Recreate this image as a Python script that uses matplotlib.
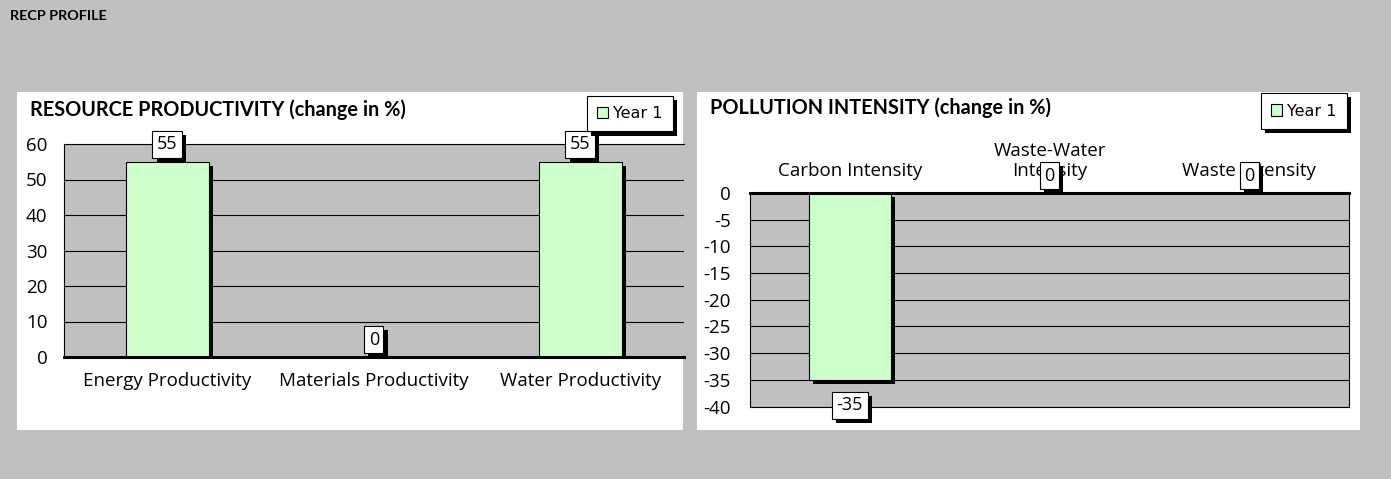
import matplotlib.pyplot as plt
import matplotlib.patheffects as pe
from matplotlib.patches import Rectangle, Patch

# data
res_categories = ['Energy Productivity', 'Materials Productivity', 'Water Productivity']
res_values = [55, 0, 55]
res_ticks = [0, 10, 20, 30, 40, 50, 60]

pol_categories = ['Carbon Intensity', 'Waste-Water\nIntensity', 'Waste Intensity']
pol_values = [-35, 0, 0]
pol_ticks = [0, -5, -10, -15, -20, -25, -30, -35, -40]

series_name = 'Year 1'

BG = '#c0c0c0'
BAR = '#ccffcc'
W, H = 1391, 479

plt.rcParams['font.family'] = ['Open Sans', 'DejaVu Sans']
plt.rcParams['axes.unicode_minus'] = False


def shadow(off=3):
    return [pe.SimplePatchShadow(offset=(off, -off), shadow_rgbFace='black', alpha=1), pe.Normal()]


def fx(px):
    return px / W


def fy(py):
    return 1 - py / H


fig = plt.figure(figsize=(W / 100, H / 100), dpi=100, facecolor=BG)

# white chart panels
for x0, x1 in [(17, 683), (697, 1360)]:
    fig.patches.append(Rectangle((fx(x0), fy(430)), fx(x1 - x0), (430 - 92) / H,
                                 transform=fig.transFigure, facecolor='white', edgecolor='none', zorder=-10))

fig.text(fx(10), fy(16), 'RECP PROFILE', fontsize=10.4, fontweight='bold', family='Lato', va='center')


def style_axes(ax):
    ax.set_facecolor(BG)
    ax.grid(axis='y', color='black', linewidth=0.8)
    ax.set_axisbelow(True)
    ax.tick_params(length=0, labelsize=13.5)
    for s in ax.spines.values():
        s.set_color('black')
        s.set_linewidth(0.8)


def add_legend(ax, cx, cy):
    h = Patch(facecolor=BAR, edgecolor='black', linewidth=0.8)
    leg = ax.legend([h], [series_name], loc='center', bbox_to_anchor=(fx(cx), fy(cy)),
                    bbox_transform=fig.transFigure, fancybox=False, edgecolor='black',
                    framealpha=1, handlelength=0.7, handleheight=0.7,
                    handletextpad=0.3, borderpad=0.65, prop={'family': 'DejaVu Sans', 'size': 11.5})
    leg.get_frame().set_linewidth(0.8)
    leg.get_frame().set_path_effects(shadow(3))


def label_bars(ax, xs, vals):
    for x, v in zip(xs, vals):
        if v >= 0:
            t = ax.annotate(str(v), (x, v), xytext=(0, 6), textcoords='offset points',
                            ha='center', va='bottom', fontsize=13)
        else:
            t = ax.annotate(str(v), (x, v), xytext=(0, -12), textcoords='offset points',
                            ha='center', va='top', fontsize=13)
        t.set_bbox(dict(boxstyle='square,pad=0.25', facecolor='white', edgecolor='black', linewidth=0.8))
        t.get_bbox_patch().set_path_effects(shadow(3))


# left chart: resource productivity
ax1 = fig.add_axes([fx(64), fy(357), fx(683.5 - 64), (357 - 144) / H])
style_axes(ax1)
xs = range(len(res_categories))
bars = ax1.bar(xs, res_values, width=0.4, color=BAR, edgecolor='black', linewidth=0.8)
for b in bars:
    b.set_path_effects(shadow(3))
ax1.set_xlim(-0.5, 2.5)
ax1.set_ylim(0, 60)
ax1.set_yticks(res_ticks)
ax1.set_xticks(list(xs))
ax1.set_xticklabels(res_categories)
ax1.tick_params(axis='x', pad=11)
ax1.tick_params(axis='y', pad=12)
ax1.spines['bottom'].set_linewidth(2.2)
ax1.spines['right'].set_visible(False)
label_bars(ax1, xs, res_values)
fig.text(fx(30), fy(110), 'RESOURCE PRODUCTIVITY (change in %)', fontsize=14.3,
         fontweight='bold', family='Lato', va='center')
add_legend(ax1, 630, 113.5)

# right chart: pollution intensity
ax2 = fig.add_axes([fx(750), fy(406.5), fx(1349 - 750), (406.5 - 193) / H])
style_axes(ax2)
xs = range(len(pol_categories))
bars = ax2.bar(xs, pol_values, width=0.41, color=BAR, edgecolor='black', linewidth=0.8)
for b in bars:
    b.set_path_effects(shadow(3))
ax2.set_xlim(-0.5, 2.5)
ax2.set_ylim(-40, 0)
ax2.set_yticks(pol_ticks)
ax2.xaxis.tick_top()
ax2.set_xticks(list(xs))
ax2.set_xticklabels(pol_categories)
ax2.tick_params(axis='x', pad=9)
ax2.tick_params(axis='y', pad=14)
ax2.spines['top'].set_linewidth(2.2)
label_bars(ax2, xs, pol_values)
fig.text(fx(710), fy(108), 'POLLUTION INTENSITY (change in %)', fontsize=14.3,
         fontweight='bold', family='Lato', va='center')
add_legend(ax2, 1304, 111)

fig.savefig('out.png', dpi=100, facecolor=BG)
